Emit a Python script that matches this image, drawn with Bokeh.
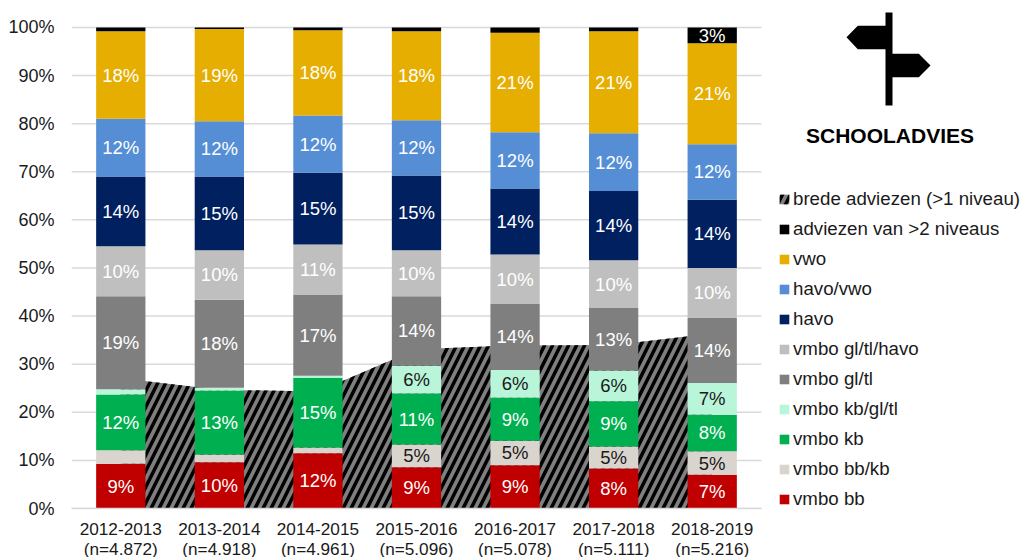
from bokeh.plotting import figure
from bokeh.embed import file_html
from bokeh.resources import INLINE
from bokeh.models import Legend, LegendItem, Label, PolyAnnotation, ColumnDataSource, FixedTicker, Range1d
from bokeh.core.properties import value

years = ["2012-2013\n(n=4.872)", "2013-2014\n(n=4.918)", "2014-2015\n(n=4.961)", "2015-2016\n(n=5.096)",
         "2016-2017\n(n=5.078)", "2017-2018\n(n=5.111)", "2018-2019\n(n=5.216)"]

vmbo_bb = [9.3, 9.6, 11.5, 8.6, 9.0, 8.3, 7.0]
vmbo_bbkb = [2.8, 1.6, 1.2, 4.7, 5.1, 4.6, 4.9]
vmbo_kb = [11.6, 13.3, 14.5, 10.6, 8.9, 9.4, 7.6]
vmbo_kbgltl = [1.1, 0.6, 0.4, 5.8, 5.8, 6.4, 6.6]
vmbo_gltl = [19.3, 18.3, 16.9, 14.4, 13.8, 13.0, 13.5]
vmbo_glhavo = [10.4, 10.3, 10.4, 9.6, 10.2, 9.9, 10.4]
havo = [14.5, 15.3, 14.9, 15.5, 13.7, 14.4, 14.2]
havo_vwo = [12.0, 11.5, 11.9, 11.5, 11.7, 12.0, 11.5]
vwo = [18.2, 19.2, 17.7, 18.5, 20.7, 21.2, 21.0]
breed2 = [0.8, 0.3, 0.6, 0.8, 1.1, 0.8, 3.3]
brede_adviezen = [27.1, 24.7, 24.3, 33.1, 33.9, 34.0, 36.4]

labels_bb = ["9%", "10%", "12%", "9%", "9%", "8%", "7%"]
labels_bbkb = ["", "", "", "5%", "5%", "5%", "5%"]
labels_kb = ["12%", "13%", "15%", "11%", "9%", "9%", "8%"]
labels_kbgltl = ["", "", "", "6%", "6%", "6%", "7%"]
labels_gltl = ["19%", "18%", "17%", "14%", "14%", "13%", "14%"]
labels_glhavo = ["10%", "10%", "11%", "10%", "10%", "10%", "10%"]
labels_havo = ["14%", "15%", "15%", "15%", "14%", "14%", "14%"]
labels_havovwo = ["12%", "12%", "12%", "12%", "12%", "12%", "12%"]
labels_vwo = ["18%", "19%", "18%", "18%", "21%", "21%", "21%"]
labels_breed2 = ["", "", "", "", "", "", "3%"]

series = [
    ("vmbo bb", vmbo_bb, "#C00000", labels_bb, "white"),
    ("vmbo bb/kb", vmbo_bbkb, "#D9D5CE", labels_bbkb, "#1a1a1a"),
    ("vmbo kb", vmbo_kb, "#00B050", labels_kb, "white"),
    ("vmbo kb/gl/tl", vmbo_kbgltl, "#B9F5D9", labels_kbgltl, "#1a1a1a"),
    ("vmbo gl/tl", vmbo_gltl, "#7F7F7F", labels_gltl, "white"),
    ("vmbo gl/tl/havo", vmbo_glhavo, "#BFBFBF", labels_glhavo, "white"),
    ("havo", havo, "#002060", labels_havo, "white"),
    ("havo/vwo", havo_vwo, "#558ED5", labels_havovwo, "white"),
    ("vwo", vwo, "#E5AE00", labels_vwo, "white"),
    ("adviezen van >2 niveaus", breed2, "#000000", labels_breed2, "white"),
]

FONT = "Liberation Sans"
n = len(years)
xpos = [i + 0.5 for i in range(n)]
ticks = list(range(0, 101, 10))

p = figure(width=1020, height=561, x_range=Range1d(0, 949 / 98.57), y_range=Range1d(0, 105.6),
           output_backend="svg", toolbar_location=None, margin=(0, 0, -4, 0),
           min_border_left=71, min_border_right=0, min_border_top=0, min_border_bottom=48)
p.outline_line_color = None
p.background_fill_color = "white"
p.grid.visible = False

p.segment(x0=[0] * len(ticks), x1=[n] * len(ticks), y0=ticks, y1=ticks, line_color="#D9D9D9",
          line_width=1.5, level="underlay")

p.yaxis.ticker = FixedTicker(ticks=ticks)
p.yaxis.bounds = (0, 100)
p.yaxis.major_label_overrides = {i: f"{i}%" for i in ticks}
p.yaxis.axis_line_color = None
p.yaxis.major_tick_line_color = None
p.yaxis.minor_tick_line_color = None
p.yaxis.major_tick_out = 0
p.yaxis.minor_tick_out = 0
p.yaxis.major_label_text_font = FONT
p.yaxis.major_label_text_font_size = "18px"
p.yaxis.major_label_text_color = "#1a1a1a"
p.yaxis.major_label_standoff = 17

p.xaxis.ticker = FixedTicker(ticks=xpos)
p.xaxis.bounds = (0, n)
p.xaxis.major_label_overrides = {x: y for x, y in zip(xpos, years)}
p.xaxis.axis_line_color = "#D9D9D9"
p.xaxis.axis_line_width = 1.5
p.xaxis.major_tick_line_color = None
p.xaxis.minor_tick_line_color = None
p.xaxis.major_tick_out = 0
p.xaxis.minor_tick_out = 0
p.xaxis.major_label_text_font = FONT
p.xaxis.major_label_text_font_size = "17.2px"
p.xaxis.major_label_text_color = "#1a1a1a"
p.xaxis.major_label_text_line_height = 1.0
p.xaxis.major_label_standoff = 10

area = p.varea(x=xpos, y1=[0] * n, y2=brede_adviezen, fill_color="#7F7F7F",
               hatch_pattern="right_diagonal_line", hatch_color="#000000", hatch_scale=16, hatch_weight=3.5)

items = []
base = [0.0] * n
label_rows = []
for name, vals, color, labs, tcolor in series:
    top = [b + v for b, v in zip(base, vals)]
    r = p.vbar(x=xpos, bottom=base, top=top, width=0.5, fill_color=color, line_color=None)
    items.append(LegendItem(label=name, renderers=[r]))
    label_rows.append(([(b + t) / 2 for b, t in zip(base, top)], labs, tcolor))
    base = top

for ys, labs, tcolor in label_rows:
    src = ColumnDataSource(dict(x=xpos, y=ys, t=labs))
    p.text(x="x", y="y", text="t", source=src, text_font=value(FONT), text_font_size="18.5px",
           text_color=tcolor, text_align="center", text_baseline="middle")

items = [LegendItem(label="brede adviezen (>1 niveau)", renderers=[area])] + items[::-1]
legend = Legend(items=items, location=(707, -2), background_fill_alpha=0, border_line_color=None,
                label_text_font=FONT, label_text_font_size="18.7px", label_text_color="#1a1a1a",
                glyph_width=12, glyph_height=12, label_standoff=3, spacing=8, padding=0, margin=0,
                label_height=20)
p.add_layout(legend, "center")

p.add_layout(Label(x=889.5, y=135, x_units="canvas", y_units="canvas", text="SCHOOLADVIES",
                   text_font=FONT, text_font_style="bold", text_font_size="21px", text_color="#000000",
                   text_align="center", text_baseline="alphabetic"))

sign_x = [885, 885, 892, 892, 918.3, 930, 918.3, 892, 892, 885, 885, 857.3, 846, 857.3, 885]
sign_y = [105, 12, 12, 53.3, 53.3, 65, 76.7, 76.7, 105, 105, 48.7, 48.7, 36.7, 25.3, 25.3]
p.add_layout(PolyAnnotation(xs=sign_x, ys=sign_y, xs_units="canvas", ys_units="canvas",
                            fill_color="#000000", fill_alpha=1, line_color=None))

open("out.html", "w").write(file_html(p, INLINE))
